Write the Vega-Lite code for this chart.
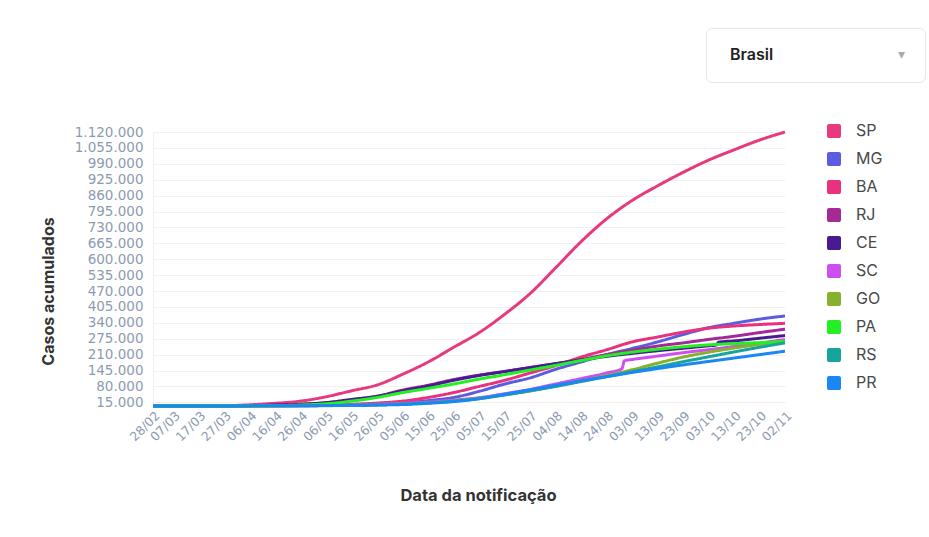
{
  "$schema": "https://vega.github.io/schema/vega-lite/v6.json",
  "width": 632,
  "height": 274,
  "autosize": {"type": "none"},
  "padding": {"left": 153, "top": 132, "right": 144, "bottom": 131},
  "background": "white",
  "data": {
    "values": [
      {"d": "2020-02-28", "SP": 1, "MG": 0, "BA": 0, "RJ": 0, "CE": 0, "SC": 0, "GO": 0, "PA": 0, "RS": 0, "PR": 0},
      {"d": "2020-03-07", "SP": 8, "MG": 1, "BA": 2, "RJ": 2, "CE": 0, "SC": 0, "GO": 0, "PA": 0, "RS": 0, "PR": 0},
      {"d": "2020-03-17", "SP": 164, "MG": 15, "BA": 15, "RJ": 33, "CE": 20, "SC": 10, "GO": 10, "PA": 1, "RS": 10, "PR": 20},
      {"d": "2020-03-27", "SP": 1223, "MG": 150, "BA": 100, "RJ": 490, "CE": 280, "SC": 150, "GO": 60, "PA": 30, "RS": 210, "PR": 150},
      {"d": "2020-04-06", "SP": 4870, "MG": 500, "BA": 500, "RJ": 1500, "CE": 1000, "SC": 400, "GO": 200, "PA": 300, "RS": 600, "PR": 500},
      {"d": "2020-04-16", "SP": 11040, "MG": 1000, "BA": 1200, "RJ": 4000, "CE": 3500, "SC": 800, "GO": 500, "PA": 1500, "RS": 800, "PR": 900},
      {"d": "2020-04-26", "SP": 20000, "MG": 1600, "BA": 2200, "RJ": 7000, "CE": 7000, "SC": 1200, "GO": 800, "PA": 4000, "RS": 1100, "PR": 1100},
      {"d": "2020-05-06", "SP": 37850, "MG": 2500, "BA": 4000, "RJ": 13000, "CE": 14000, "SC": 2500, "GO": 1300, "PA": 9000, "RS": 1800, "PR": 1800},
      {"d": "2020-05-16", "SP": 62350, "MG": 4000, "BA": 7000, "RJ": 23000, "CE": 27000, "SC": 4500, "GO": 2500, "PA": 20000, "RS": 2600, "PR": 2800},
      {"d": "2020-05-26", "SP": 86000, "MG": 6500, "BA": 12000, "RJ": 40000, "CE": 40000, "SC": 7000, "GO": 4500, "PA": 35000, "RS": 4500, "PR": 4000},
      {"d": "2020-06-05", "SP": 130000, "MG": 12000, "BA": 20000, "RJ": 65000, "CE": 62000, "SC": 11000, "GO": 8000, "PA": 55000, "RS": 8000, "PR": 6000},
      {"d": "2020-06-15", "SP": 180000, "MG": 22000, "BA": 35000, "RJ": 85000, "CE": 82000, "SC": 16000, "GO": 13000, "PA": 72000, "RS": 13000, "PR": 11000},
      {"d": "2020-06-25", "SP": 240000, "MG": 35000, "BA": 55000, "RJ": 108000, "CE": 105000, "SC": 24000, "GO": 21000, "PA": 90000, "RS": 20000, "PR": 18000},
      {"d": "2020-07-05", "SP": 300000, "MG": 60000, "BA": 80000, "RJ": 126000, "CE": 125000, "SC": 34000, "GO": 32000, "PA": 110000, "RS": 30000, "PR": 30000},
      {"d": "2020-07-15", "SP": 375000, "MG": 90000, "BA": 105000, "RJ": 141000, "CE": 141000, "SC": 50000, "GO": 46000, "PA": 128000, "RS": 45000, "PR": 48000},
      {"d": "2020-07-25", "SP": 460000, "MG": 115000, "BA": 135000, "RJ": 157000, "CE": 157000, "SC": 68000, "GO": 62000, "PA": 147000, "RS": 62000, "PR": 66000},
      {"d": "2020-08-04", "SP": 565000, "MG": 150000, "BA": 165000, "RJ": 173000, "CE": 173000, "SC": 90000, "GO": 82000, "PA": 166000, "RS": 80000, "PR": 85000},
      {"d": "2020-08-14", "SP": 672000, "MG": 180000, "BA": 200000, "RJ": 190000, "CE": 188000, "SC": 112000, "GO": 102000, "PA": 186000, "RS": 100000, "PR": 103000},
      {"d": "2020-08-24", "SP": 765000, "MG": 210000, "BA": 230000, "RJ": 210000, "CE": 203000, "SC": 135000, "GO": 124000, "PA": 205000, "RS": 120000, "PR": 120000},
      {"d": "2020-08-30", "SC": 152000},
      {"d": "2020-08-31", "SC": 185000},
      {"d": "2020-09-03", "SP": 840000, "MG": 235000, "BA": 262000, "RJ": 228000, "CE": 215000, "SC": 190000, "GO": 148000, "PA": 220000, "RS": 140000, "PR": 137000},
      {"d": "2020-09-13", "SP": 900000, "MG": 262000, "BA": 282000, "RJ": 245000, "CE": 226000, "SC": 204000, "GO": 175000, "PA": 232000, "RS": 160000, "PR": 153000},
      {"d": "2020-09-23", "SP": 955000, "MG": 292000, "BA": 302000, "RJ": 258000, "CE": 236000, "SC": 218000, "GO": 200000, "PA": 242000, "RS": 181000, "PR": 168000},
      {"d": "2020-10-03", "SP": 1005000, "MG": 320000, "BA": 318000, "RJ": 272000, "CE": 246000, "SC": 230000, "GO": 220000, "PA": 250000, "RS": 201000, "PR": 182000},
      {"d": "2020-10-06", "CE": 249000},
      {"d": "2020-10-07", "CE": 261000},
      {"d": "2020-10-13", "SP": 1047000, "MG": 338000, "BA": 327000, "RJ": 285000, "CE": 266000, "SC": 243000, "GO": 237000, "PA": 255000, "RS": 221000, "PR": 196000},
      {"d": "2020-10-23", "SP": 1087000, "MG": 355000, "BA": 333000, "RJ": 300000, "CE": 277000, "SC": 257000, "GO": 252000, "PA": 259000, "RS": 240000, "PR": 210000},
      {"d": "2020-11-02", "SP": 1120000, "MG": 368000, "BA": 338000, "RJ": 314000, "CE": 288000, "SC": 272000, "GO": 266000, "PA": 263000, "RS": 258000, "PR": 224000}
    ]
  },
  "transform": [
    {"fold": ["SP", "MG", "BA", "RJ", "CE", "SC", "GO", "PA", "RS", "PR"], "as": ["estado", "casos"]},
    {"filter": "isValid(datum.casos)"}
  ],
  "mark": {"type": "line", "strokeWidth": 3, "interpolate": "monotone"},
  "encoding": {
    "x": {
      "field": "d",
      "type": "temporal",
      "scale": {"type": "utc", "domain": [1582848000000, 1604275200000]},
      "axis": {
        "values": [1582848000000, 1583539200000, 1584403200000, 1585267200000, 1586131200000, 1586995200000, 1587859200000, 1588723200000, 1589587200000, 1590451200000, 1591315200000, 1592179200000, 1593043200000, 1593907200000, 1594771200000, 1595635200000, 1596499200000, 1597363200000, 1598227200000, 1599091200000, 1599955200000, 1600819200000, 1601683200000, 1602547200000, 1603411200000, 1604275200000],
        "labelExpr": "utcFormat(datum.value, '%d/%m')",
        "labelAngle": -45,
        "labelAlign": "right",
        "labelBaseline": "top",
        "labelPadding": 3,
        "labelFont": "DejaVu Sans",
        "labelFontSize": 12.5,
        "labelColor": "#8c9bb0",
        "labelOverlap": false,
        "labelBound": false,
        "labelFlush": false,
        "grid": false,
        "ticks": false,
        "domain": false,
        "title": "Data da notificação",
        "titleFont": "Inter",
        "titleFontSize": 16.5,
        "titleFontWeight": 700,
        "titleColor": "#333333",
        "titleX": 325,
        "titleY": 89,
        "titleBaseline": "middle",
        "titleAlign": "center"
      }
    },
    "y": {
      "field": "casos",
      "type": "quantitative",
      "scale": {"domain": [0, 1120000], "nice": false},
      "axis": {
        "values": [15000, 80000, 145000, 210000, 275000, 340000, 405000, 470000, 535000, 600000, 665000, 730000, 795000, 860000, 925000, 990000, 1055000, 1120000],
        "labelExpr": "replace(format(datum.value, ','), /,/g, '.')",
        "labelFont": "DejaVu Sans",
        "labelFontSize": 13.5,
        "labelColor": "#8c9bb0",
        "labelPadding": 10,
        "labelOverlap": false,
        "labelFlush": false,
        "ticks": false,
        "domain": true,
        "domainColor": "#eeeeee",
        "gridColor": "#f1f1f1",
        "title": "Casos acumulados",
        "titleFont": "Inter",
        "titleFontSize": 16,
        "titleFontWeight": 700,
        "titleColor": "#333333",
        "titleX": -105,
        "titleY": 159,
        "titleBaseline": "middle",
        "titleAlign": "center"
      }
    },
    "color": {
      "field": "estado",
      "type": "nominal",
      "sort": ["SP", "MG", "BA", "RJ", "CE", "SC", "GO", "PA", "RS", "PR"],
      "scale": {
        "domain": ["SP", "MG", "BA", "RJ", "CE", "SC", "GO", "PA", "RS", "PR"],
        "range": ["#e8397f", "#5b5ce0", "#e8327e", "#a52a95", "#4a1a92", "#cf4ef0", "#88b030", "#22f022", "#17a49a", "#1a87f5"]
      },
      "legend": {
        "orient": "none",
        "legendX": 673,
        "legendY": -9,
        "title": null,
        "symbolType": "M-0.7,-1H0.7A0.3,0.3,0,0,1,1,-0.7V0.7A0.3,0.3,0,0,1,0.7,1H-0.7A0.3,0.3,0,0,1,-1,0.7V-0.7A0.3,0.3,0,0,1,-0.7,-1Z",
        "symbolSize": 196,
        "symbolStrokeWidth": 0,
        "labelFont": "Inter",
        "labelFontSize": 16,
        "labelColor": "#4a4a4a",
        "labelOffset": 14,
        "rowPadding": 12,
        "encode": {
          "symbols": {
            "update": {
              "fill": {"scale": "color", "field": "value"},
              "fillOpacity": {"value": 1},
              "strokeWidth": {"value": 0}
            }
          }
        }
      }
    },
    "strokeDash": {
      "datum": "Brasil",
      "type": "nominal",
      "scale": {"range": [[1, 0]]},
      "legend": {
        "orient": "none",
        "legendX": 553,
        "legendY": -104,
        "title": "▾",
        "titleOrient": "right",
        "titleAnchor": "middle",
        "titlePadding": 125,
        "titleFont": "DejaVu Sans",
        "titleFontSize": 14,
        "titleFontWeight": "normal",
        "titleColor": "#aaaaaa",
        "symbolSize": 0,
        "symbolStrokeWidth": 0,
        "symbolOpacity": 0,
        "labelOffset": -11,
        "labelFont": "Inter",
        "labelFontSize": 16,
        "labelFontWeight": 600,
        "labelColor": "#222222",
        "padding": 19,
        "cornerRadius": 6,
        "strokeColor": "#e3e6ea",
        "fillColor": "#ffffff"
      }
    }
  },
  "config": {"view": {"stroke": null}}
}
